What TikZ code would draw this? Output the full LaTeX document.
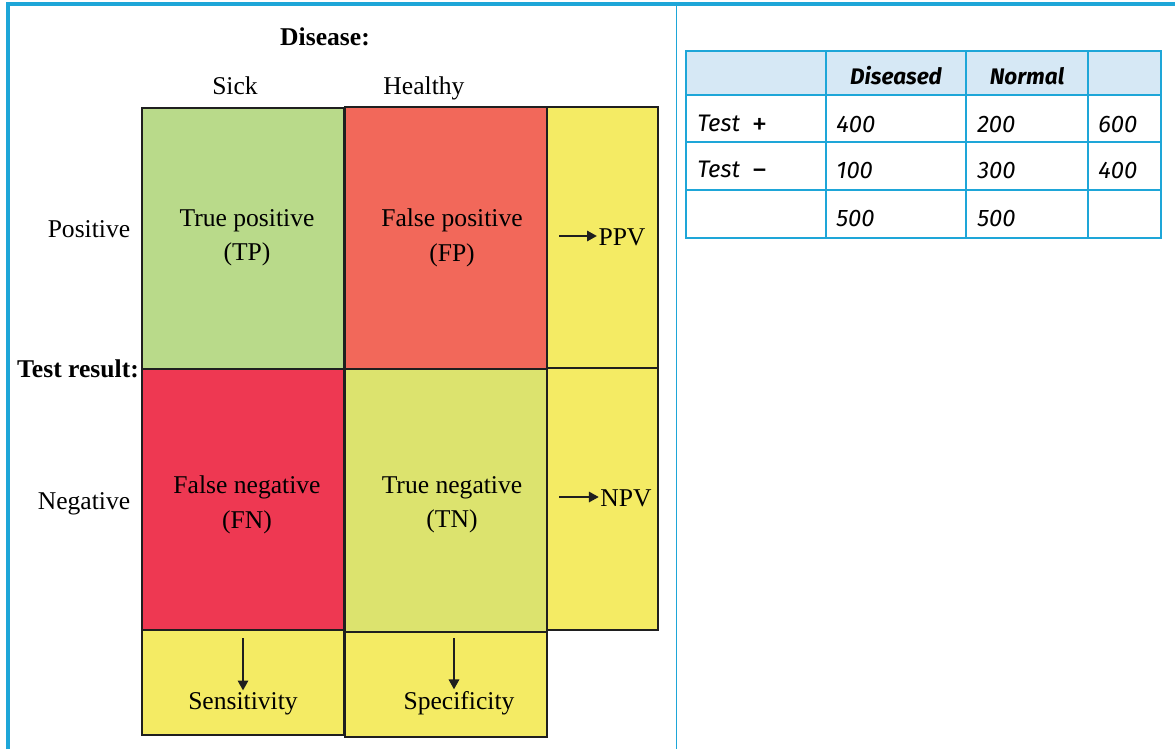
\documentclass[tikz,border=0pt]{standalone}
\usepackage{fontspec}
\setmainfont{Liberation Serif}
\newfontfamily\handfont{Fira Sans}
\usepackage{tikz}
\usetikzlibrary{positioning,arrows.meta,fit}
\usepackage{xcolor}
\definecolor{frameblue}{RGB}{30,166,216}
\definecolor{headblue}{RGB}{214,232,245}
\definecolor{tpgreen}{RGB}{185,218,138}
\definecolor{fpred}{RGB}{242,104,90}
\definecolor{fnred}{RGB}{238,56,82}
\definecolor{tnlime}{RGB}{220,227,110}
\definecolor{valyellow}{RGB}{244,235,100}

\begin{document}
\begin{tikzpicture}[x=0.025cm,y=-0.025cm,
  cell/.style={rectangle,draw=black!88,line width=0.8pt,inner sep=0pt},
  lbl/.style={inner sep=1pt,anchor=base,font=\fontsize{18.2}{24.5}\selectfont},
  celltext/.style={inner sep=0pt,align=center,font=\fontsize{18.2}{24.5}\selectfont},
  hand/.style={inner sep=0pt,anchor=west,font=\handfont\itshape\fontsize{17}{20}\selectfont},
  head/.style={inner sep=0pt,font=\handfont\bfseries\itshape\fontsize{16}{19}\selectfont},
  arr/.style={-{Triangle[length=7pt,width=7.5pt]},line width=1.1pt,black!88},
  grid/.style={frameblue,line width=1.5pt}
]
\useasboundingbox (0,0) rectangle (1175,749);

% outer frame
\draw[frameblue,line width=2.2pt] (8,749) -- (8,4) -- (1175,4);
\draw[frameblue,line width=0.7pt] (676,4) -- (676,749);

% the 2x2 grid with its margins
\node[cell,fill=tpgreen,fit={(142,108) (344,369)}] (tp) {};
\node[cell,fill=fpred,fit={(345,107) (547,369)}] (fp) {};
\node[cell,fill=valyellow,fit={(547,107) (658,368)}] (ppvbox) {};
\node[cell,fill=fnred,fit={(142,369) (344,630)}] (fn) {};
\node[cell,fill=tnlime,fit={(345,369) (547,632)}] (tn) {};
\node[cell,fill=valyellow,fit={(547,368) (658,630)}] (npvbox) {};
\node[cell,fill=valyellow,fit={(142,630) (344,735)}] (sensbox) {};
\node[cell,fill=valyellow,fit={(345,632) (547,737)}] (specbox) {};

\node[celltext] (tptext) at (247,238) {True positive\\(TP)};
\node[celltext] (fptext) at (452,238) {False positive\\(FP)};
\node[celltext] (fntext) at (247,505) {False negative\\(FN)};
\node[celltext] (tntext) at (452,505) {True negative\\(TN)};

% headings
\node[lbl,font=\bfseries\fontsize{18.2}{24.5}\selectfont] (disease) at (325,46) {Disease:};
\node[lbl] (sick) at (235,94) {Sick};
\node[lbl] (healthy) at (424,94) {Healthy};
\node[lbl] (positive) at (89,237) {Positive};
\node[lbl,font=\bfseries\fontsize{18.2}{24.5}\selectfont] (testres) at (78,377) {Test result:};
\node[lbl] (negative) at (84,509) {Negative};

% predictive values
\node[lbl] (ppv) at (622,245) {PPV};
\coordinate (ppvtail) at (559,236);
\draw[arr] (ppvtail) -- (ppvtail -| ppv.west);
\node[lbl] (npv) at (626,506) {NPV};
\coordinate (npvtail) at (559,497);
\draw[arr] (npvtail) -- (npvtail -| npv.west);

% sensitivity / specificity
\node[lbl] (sens) at (243,709) {Sensitivity};
\coordinate (senstail) at (243,638);
\draw[arr] (senstail) -- (senstail |- sens.north);
\node[lbl] (spec) at (459,709) {Specificity};
\coordinate (spectail) at (454,638);
\draw[arr] (spectail) -- (spectail |- spec.north);

% table on the right
\fill[headblue] (686,51) rectangle (1161,95);
\foreach \x in {826,966,1088} \draw[grid] (\x,51) -- (\x,238);
\foreach \y in {95,142,190} \draw[grid] (686,\y) -- (1161,\y);
\draw[grid] (686,51) rectangle (1161,238);

\node[head] (hdis) at (896,76) {Diseased};
\node[head] (hnorm) at (1027,76) {Normal};
\node[hand] (tplus) at (697,125) {Test\hspace{4pt} \raisebox{-2.5pt}{\upshape\fontsize{22}{20}\selectfont +}};
\node[hand] (tminus) at (697,171) {Test\hspace{4pt} \raisebox{-2.5pt}{\upshape\fontsize{22}{20}\selectfont −}};
\node[hand] (v400a) at (836,125) {400};
\node[hand] (v200) at (977,125) {200};
\node[hand] (v600) at (1098,125) {600};
\node[hand] (v100) at (836,171) {100};
\node[hand] (v300) at (977,171) {300};
\node[hand] (v400b) at (1098,171) {400};
\node[hand] (v500a) at (836,219) {500};
\node[hand] (v500b) at (977,219) {500};
\end{tikzpicture}
\end{document}
